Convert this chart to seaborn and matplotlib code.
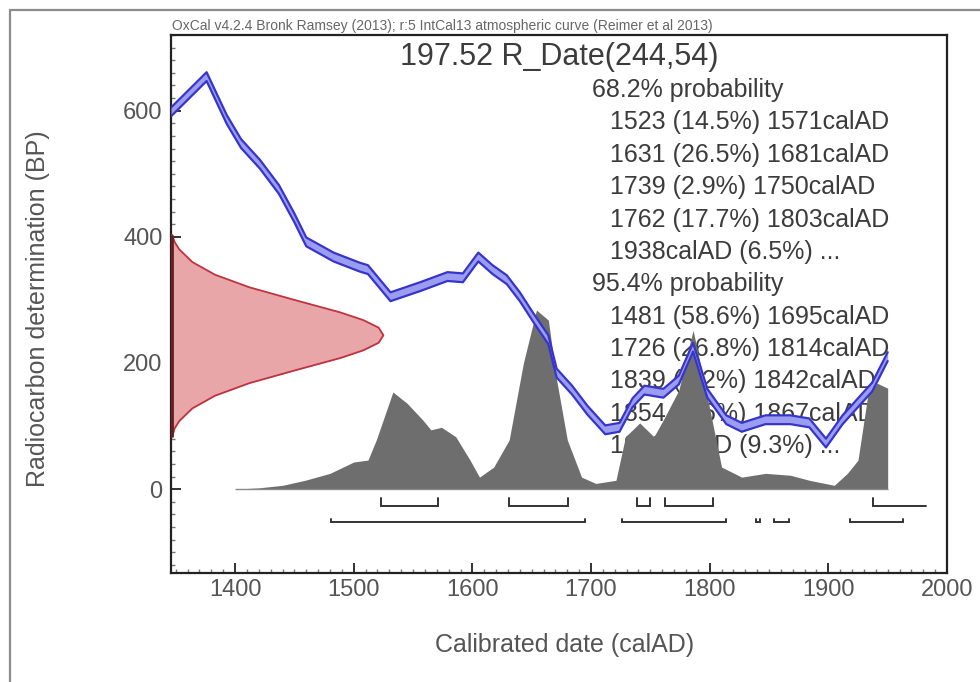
import matplotlib
matplotlib.use("Agg")
import matplotlib.pyplot as plt
import seaborn as sns
from matplotlib.lines import Line2D
from matplotlib.ticker import MultipleLocator

# --- DATA ---
# IntCal13 calibration curve, centre line (calAD, BP)
cal_year = [1346, 1376, 1393, 1405, 1421, 1437, 1450, 1460, 1483, 1505,
            1512, 1531, 1556, 1579, 1592, 1605, 1617, 1629, 1640, 1651,
            1664, 1671, 1684, 1697, 1712, 1724, 1735, 1745, 1761, 1774,
            1786, 1798, 1814, 1827, 1847, 1868, 1884, 1898, 1912, 1925,
            1937, 1950]
cal_bp = [598, 654, 586, 548, 515, 475, 430, 392, 368, 352,
          348, 305, 321, 337, 335, 368, 348, 332, 305, 273,
          237, 184, 157, 125, 94, 98, 137, 157, 152, 173,
          225, 152, 110, 98, 110, 110, 105, 73, 110, 137,
          162, 210]
cal_sigma = 7

# calibrated (posterior) distribution, drawn in BP units on the same axis
post_year = [1400, 1420, 1440, 1459, 1480, 1500, 1512, 1519, 1533, 1545,
             1558, 1565, 1574, 1586, 1598, 1606, 1618, 1631, 1643, 1654,
             1664, 1671, 1680, 1692, 1704, 1721, 1729, 1741, 1753, 1761,
             1774, 1786, 1798, 1810, 1827, 1847, 1868, 1884, 1905, 1916,
             1925, 1933, 1941, 1950]
post_height = [0, 2, 6, 14, 25, 43, 46, 78, 154, 136,
               110, 94, 98, 83, 46, 19, 35, 78, 200, 284,
               268, 173, 78, 19, 9, 14, 83, 105, 83, 110,
               157, 252, 146, 35, 19, 25, 22, 14, 6, 25,
               46, 146, 168, 160]

# radiocarbon date R_Date(244,54), width in years from the left axis
red_bp = [403, 392, 380, 360, 340, 320, 300, 280, 268, 256, 244,
          232, 220, 208, 188, 168, 148, 128, 108, 96, 83]
red_width = [1, 3, 7, 18, 37, 66, 104, 143, 162, 175, 179,
             175, 162, 143, 104, 66, 37, 18, 7, 3, 1]

# highest posterior density ranges
range68_start = [1523, 1631, 1739, 1762, 1938]
range68_end = [1571, 1681, 1750, 1803, 1982]
range68_open = [False, False, False, False, True]
range95_start = [1481, 1726, 1839, 1854, 1918]
range95_end = [1695, 1814, 1842, 1867, 1963]

range_text = ["68.2% probability",
              "1523 (14.5%) 1571calAD",
              "1631 (26.5%) 1681calAD",
              "1739 (2.9%) 1750calAD",
              "1762 (17.7%) 1803calAD",
              "1938calAD (6.5%) ...",
              "95.4% probability",
              "1481 (58.6%) 1695calAD",
              "1726 (26.8%) 1814calAD",
              "1839 (0.2%) 1842calAD",
              "1854 (0.6%) 1867calAD",
              "1918calAD (9.3%) ..."]

x_ticks = [1400, 1500, 1600, 1700, 1800, 1900, 2000]
y_ticks = [0, 200, 400, 600]

TITLE = "197.52 R_Date(244,54)"
HEADER = "OxCal v4.2.4 Bronk Ramsey (2013); r:5 IntCal13 atmospheric curve (Reimer et al 2013)"

# --- STYLE ---
sns.set_style("ticks")
plt.rcParams['font.family'] = ['Liberation Sans', 'DejaVu Sans']

XMIN, XMAX = 1346, 2000
YMIN, YMAX = -133, 720
TXT = "#3c3c3c"

fig = plt.figure(figsize=(9.8, 6.82), dpi=100)
ax = fig.add_axes([171 / 980, 1 - 573 / 682, 776 / 980, 538 / 682])

# text block sits underneath the curves
for i, t in enumerate(range_text):
    x = 0.5425 if t.endswith("probability") else 0.5657
    ax.text(x, 0.8978 - i * 0.0602, t, transform=ax.transAxes,
            fontsize=18, color=TXT, va='center', ha='left', zorder=1)

# posterior histogram
ax.fill_between(post_year, 0, post_height, color="#6e6e6e", lw=0, zorder=2)
ax.hlines(0, 1400, 1950, color="#8a8a8a", lw=1, zorder=2)

# calibration curve band
lower = [b - cal_sigma for b in cal_bp]
upper = [b + cal_sigma for b in cal_bp]
ax.fill_between(cal_year, lower, upper, color="#9c9cf0", lw=0, zorder=3)
sns.lineplot(x=cal_year, y=upper, color="#3535cc", lw=1.6, ax=ax,
             estimator=None, sort=False, zorder=4)
sns.lineplot(x=cal_year, y=lower, color="#3535cc", lw=1.6, ax=ax,
             estimator=None, sort=False, zorder=4)

# radiocarbon date
red_x = [XMIN + w for w in red_width]
ax.fill_betweenx(red_bp, XMIN, red_x, color="#e9a6a8", lw=0, zorder=3)
sns.lineplot(x=red_x, y=red_bp, color="#c0323f", lw=1.3, ax=ax,
             estimator=None, sort=False, orient='y', zorder=4)
ax.vlines(XMIN + 0.6, min(red_bp), max(red_bp), color="#6a1a22", lw=2, zorder=4)

# range brackets
def draw_brackets(starts, ends, y, tick, open_end=None):
    if open_end is None:
        open_end = [False] * len(starts)
    for s, e, op in zip(starts, ends, open_end):
        xs = [s, s, e] if op else [s, s, e, e]
        ys = [y + tick, y, y] if op else [y + tick, y, y, y + tick]
        ax.plot(xs, ys, color="#333333", lw=1.4, zorder=3,
                solid_joinstyle='miter')

draw_brackets(range68_start, range68_end, -27, 13, range68_open)
draw_brackets(range95_start, range95_end, -52, 5)

# axes
ax.set_xlim(XMIN, XMAX)
ax.set_ylim(YMIN, YMAX)
ax.set_xticks(x_ticks)
ax.set_yticks(y_ticks)
ax.xaxis.set_minor_locator(MultipleLocator(10))
ax.yaxis.set_minor_locator(MultipleLocator(20))
ax.tick_params(which='major', direction='in', length=7, width=1.3,
               color="#222222", labelsize=17, labelcolor="#555555",
               top=False, right=False)
ax.tick_params(axis='y', which='major', pad=6)
ax.tick_params(axis='x', which='major', pad=4)
ax.tick_params(which='minor', direction='in', length=3, width=1,
               color="#777777", top=False, right=False)
for sp in ax.spines.values():
    sp.set_visible(True)
    sp.set_color("#222222")
    sp.set_linewidth(1.6)
ax.set_xlabel("")
ax.set_ylabel("")

ax.text(0.5, 0.96, TITLE, transform=ax.transAxes, fontsize=22,
        color=TXT, ha='center', va='center', zorder=5)
ax.text(0.001, 1.003, HEADER, transform=ax.transAxes, fontsize=10,
        color="#666666", ha='left', va='bottom')

fig.text(565 / 980, 1 - 645 / 682, "Calibrated date (calAD)", fontsize=18,
         color="#555555", ha='center', va='center')
fig.text(38 / 980, 1 - 309 / 682, "Radiocarbon determination (BP)",
         fontsize=18, color="#555555", ha='center', va='center', rotation=90)

# outer frame of the original screenshot
fig.add_artist(Line2D([10 / 980, 10 / 980], [0, 1 - 10 / 682],
                      transform=fig.transFigure, color="#8c8c8c", lw=1.6))
fig.add_artist(Line2D([10 / 980, 1], [1 - 10 / 682, 1 - 10 / 682],
                      transform=fig.transFigure, color="#8c8c8c", lw=1.6))

fig.savefig("out.png", dpi=100)
